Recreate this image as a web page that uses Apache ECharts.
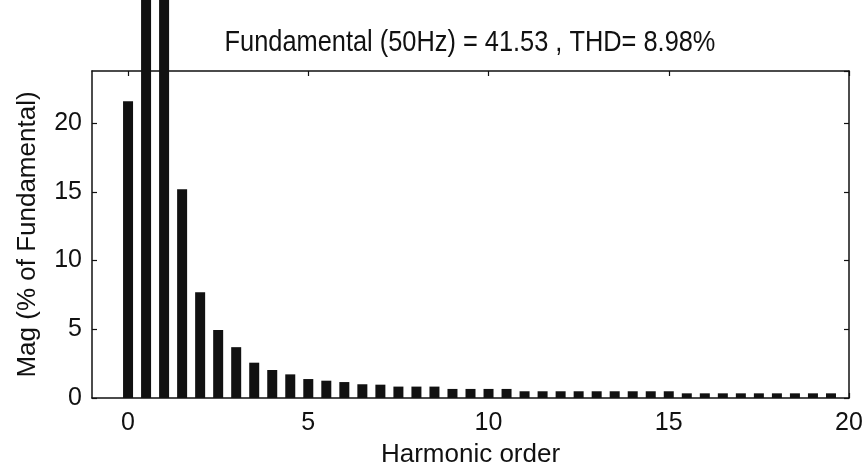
<!DOCTYPE html>
<html>
<head>
<meta charset="utf-8">
<script src="https://cdn.jsdelivr.net/npm/echarts@6/dist/echarts.min.js"></script>
<style>
  html, body { margin: 0; padding: 0; background: #fff; }
  #chart { width: 865px; height: 471px; }
</style>
</head>
<body>
<div id="chart"></div>
<script>
// harmonic orders (step 0.5) and magnitudes in % of fundamental
var orders = [0, 0.5, 1, 1.5, 2, 2.5, 3, 3.5, 4, 4.5, 5, 5.5, 6, 6.5, 7, 7.5, 8, 8.5, 9, 9.5,
              10, 10.5, 11, 11.5, 12, 12.5, 13, 13.5, 14, 14.5, 15, 15.5, 16, 16.5, 17, 17.5, 18, 18.5, 19, 19.5];
var mags = [21.6, 32, 100, 15.2, 7.7, 4.95, 3.7, 2.57, 2.04, 1.72, 1.38, 1.26, 1.16, 1.0, 0.97, 0.83, 0.83, 0.83, 0.66, 0.66,
            0.66, 0.66, 0.49, 0.49, 0.49, 0.49, 0.49, 0.49, 0.49, 0.49, 0.49, 0.34, 0.34, 0.34, 0.34, 0.34, 0.34, 0.34, 0.34, 0.34];
var xTicks = [0, 5, 10, 15, 20];
var titleText = 'Fundamental (50Hz) = 41.53 , THD= 8.98%';

var font = '"Liberation Sans", Arial, sans-serif';
var black = '#111';

function createBarChart(id) {
    var points = orders.map(function (o, i) { return [o, mags[i]]; });
    var lineStyle = { color: black, width: 1.5 };
    var tickStyle = { show: true, inside: true, length: 5, lineStyle: { color: black, width: 1.2 } };

    var option = {
        backgroundColor: '#fff',
        animation: false,
        grid: { left: 92, right: 16, top: 71, bottom: 73, outerBoundsMode: 'none' },
        graphic: [{
            type: 'text',
            x: 470, y: 43,
            scaleX: 0.875,
            style: {
                text: titleText, fill: black, font: '29px ' + font,
                align: 'center', verticalAlign: 'middle'
            }
        }],
        xAxis: [{
            type: 'value', min: -1, max: 20,
            name: 'Harmonic order', nameLocation: 'middle', nameGap: 44,
            nameTextStyle: { color: black, fontSize: 26, fontFamily: font },
            axisLine: { show: true, onZero: false, lineStyle: lineStyle },
            axisTick: Object.assign({ customValues: xTicks }, tickStyle),
            axisLabel: { customValues: xTicks, color: black, fontSize: 25, fontFamily: font, margin: 13 },
            splitLine: { show: false }
        }, {
            type: 'value', min: -1, max: 20, position: 'top',
            axisLine: { show: true, onZero: false, lineStyle: lineStyle },
            axisTick: Object.assign({ customValues: xTicks }, tickStyle),
            axisLabel: { show: false },
            splitLine: { show: false }
        }],
        yAxis: [{
            type: 'value', min: 0, max: 23.8, interval: 5,
            name: 'Mag (% of Fundamental)', nameLocation: 'middle', nameGap: 51,
            nameTextStyle: { color: black, fontSize: 26, fontFamily: font },
            axisLine: { show: true, onZero: false, lineStyle: lineStyle },
            axisTick: tickStyle,
            axisLabel: { color: black, fontSize: 25, fontFamily: font, margin: 10, showMaxLabel: false },
            splitLine: { show: false }
        }, {
            type: 'value', min: 0, max: 23.8, interval: 5, position: 'right',
            axisLine: { show: true, onZero: false, lineStyle: lineStyle },
            axisTick: tickStyle,
            axisLabel: { show: false },
            splitLine: { show: false }
        }],
        series: [{
            type: 'bar',
            data: points,
            barWidth: 10,
            clip: false,
            itemStyle: { color: black }
        }]
    };
    var chart = echarts.init(document.getElementById(id));
    chart.setOption(option);
}
createBarChart('chart');
</script>
</body>
</html>
